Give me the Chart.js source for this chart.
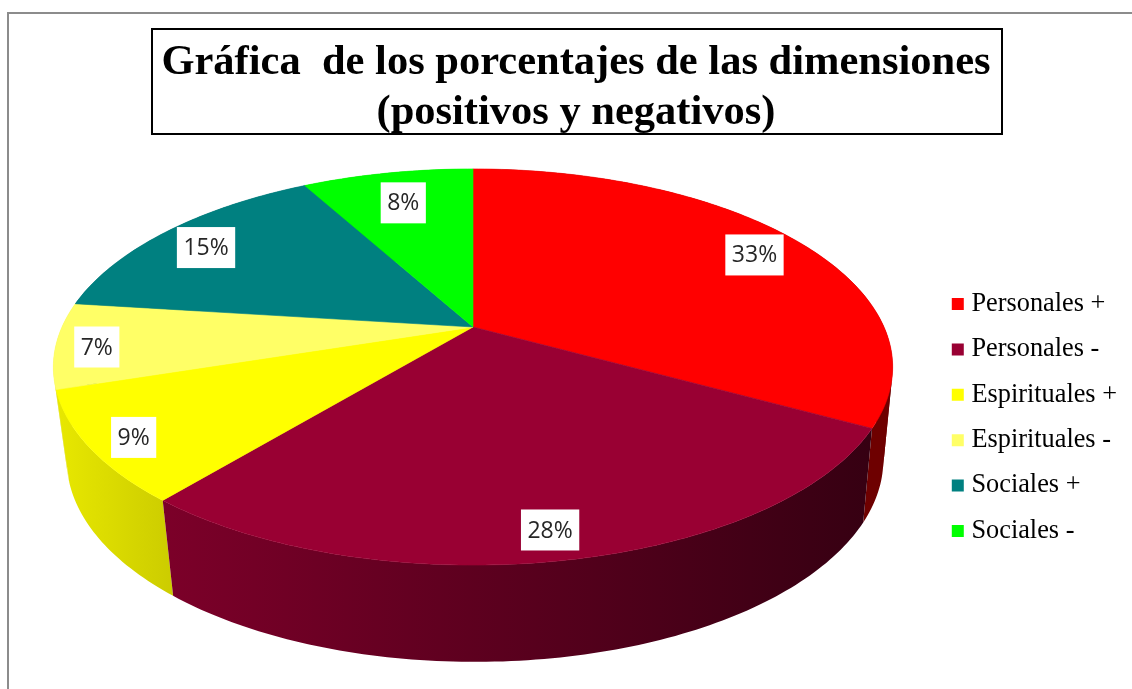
<!DOCTYPE html>
<html><head><meta charset="utf-8">
<style>html,body{margin:0;padding:0;background:#fff;overflow:hidden}#w{width:1132px;height:689px}canvas{display:block;filter:blur(0.35px)}</style>
<script src="https://cdn.jsdelivr.net/npm/chart.js@4"></script>
</head><body><div id="w"><canvas id="c" width="1132" height="689"></canvas></div>
<script>
const titleLines = ['Gráfica  de los porcentajes de las dimensiones', '(positivos y negativos)'];
const categories = ['Personales +', 'Personales -', 'Espirituales +', 'Espirituales -', 'Sociales +', 'Sociales -'];
const percentages = [33, 28, 9, 7, 15, 8];
const topColors = ['#ff0000', '#990033', '#ffff00', '#ffff66', '#008080', '#00ff00'];
const sideStart = ['#6e0000', '#7c0029', '#e8e800', '#e8e850', '#006060', '#00c000'];
const sideEnd   = ['#6e0000', '#360012', '#cccc00', '#e8e850', '#006060', '#00c000'];
const labelNudge = [[-4,6],[-5,4],[-7,6],[-10,4],[5,6],[7,14]];

// Projection of the tilted disc (layout only)
const P = {cx:473, cy:327, rx:411, ry:190, k:0.202};
function rimPoint(t, f=1){
  const w = 1 - P.k*f*Math.sin(t);
  return [P.rx*f*Math.cos(t)/w, P.ry*f*Math.sin(t)/w];
}
const toTop = ([x,y]) => [P.cx+x, P.cy+y];
const toBottom = ([x,y]) => [P.cx+0.973*x+2, P.cy+1.02*y+92];
function steps(a,b){const n=Math.max(4,Math.ceil((b-a)*60));return Array.from({length:n+1},(_,i)=>a+(b-a)*i/n);}

function drawTop(ctx){
  const a=this.startAngle,b=this.endAngle;
  ctx.save();
  ctx.beginPath();
  ctx.moveTo(P.cx,P.cy);
  steps(a,b).forEach(t=>{const p=toTop(rimPoint(t));ctx.lineTo(p[0],p[1]);});
  ctx.closePath();
  ctx.fillStyle=this.options.backgroundColor;
  ctx.strokeStyle=this.options.backgroundColor;
  ctx.lineWidth=0.6;
  ctx.fill();ctx.stroke();
  ctx.restore();
}

const pie3d = {
  id:'pie3d',
  afterUpdate(chart){ chart.getDatasetMeta(0).data.forEach(a=>{a.draw=drawTop;}); },
  beforeDraw(chart){
    const c=chart.ctx;
    c.save();
    c.fillStyle='#fff';c.fillRect(0,0,chart.width,chart.height);
    c.strokeStyle='#8c8c8c';c.lineWidth=2;
    c.beginPath();c.moveTo(8,chart.height+2);c.lineTo(8,13);c.lineTo(chart.width+2,13);c.stroke();
    c.fillStyle='#fff';c.strokeStyle='#000';c.lineWidth=2;
    c.fillRect(152,29,850,105);c.strokeRect(152,29,850,105);
    c.restore();
  },
  beforeDatasetsDraw(chart){
    const c=chart.ctx, arcs=chart.getDatasetMeta(0).data;
    const order=arcs.map((a,i)=>i).sort((i,j)=>Math.sin((arcs[i].startAngle+arcs[i].endAngle)/2)-Math.sin((arcs[j].startAngle+arcs[j].endAngle)/2));
    c.save();
    order.forEach(i=>{
      const a=arcs[i], ts=steps(a.startAngle,a.endAngle);
      const up=ts.map(t=>toTop(rimPoint(t))), dn=ts.map(t=>toBottom(rimPoint(t)));
      const xs=up.concat(dn).map(p=>p[0]);
      const g=c.createLinearGradient(Math.min(...xs),0,Math.max(...xs),0);
      g.addColorStop(0,sideStart[i]);g.addColorStop(1,sideEnd[i]);
      c.fillStyle=g;
      // quads of one winding go in one path, so no seams show between them
      [1,-1].forEach(sign=>{
        c.beginPath();
        for(let n=0;n<ts.length-1;n++){
          const q=[up[n],up[n+1],dn[n+1],dn[n]];
          let area=0;
          q.forEach((p,m)=>{const r=q[(m+1)%4];area+=p[0]*r[1]-r[0]*p[1];});
          if(Math.sign(area)!==sign) continue;
          c.moveTo(q[0][0],q[0][1]);
          c.lineTo(q[1][0],q[1][1]);c.lineTo(q[2][0],q[2][1]);c.lineTo(q[3][0],q[3][1]);
          c.closePath();
        }
        c.fill();
      });
    });
    c.restore();
  },
  afterDatasetsDraw(chart){
    const c=chart.ctx, arcs=chart.getDatasetMeta(0).data;
    c.save();
    c.font='23px "Open Sans"';
    c.textAlign='center';c.textBaseline='middle';
    arcs.forEach((a,i)=>{
      const p=toTop(rimPoint((a.startAngle+a.endAngle)/2,0.88));
      const x=p[0]+labelNudge[i][0], y=p[1]+labelNudge[i][1];
      const t=percentages[i]+'%', w=c.measureText(t).width+13;
      c.fillStyle='#fff';c.fillRect(x-w/2,y-20.5,w,41);
      c.fillStyle='#262626';c.fillText(t,x,y+1);
    });
    c.restore();
  }
};

Chart.defaults.animation=false;
new Chart(document.getElementById('c'),{
  type:'pie',
  data:{labels:categories,datasets:[{data:percentages,backgroundColor:topColors,borderWidth:0}]},
  plugins:[pie3d],
  options:{
    responsive:false,
    layout:{padding:{left:25,right:5,top:0,bottom:0}},
    plugins:{
      tooltip:{enabled:false},
      title:{display:true,text:titleLines,color:'#000',
        font:{family:'"Liberation Serif"',size:42.5,weight:'bold',lineHeight:1.176},
        padding:{top:38,bottom:8}},
      legend:{position:'right',align:'center',fullSize:false,
        labels:{usePointStyle:true,pointStyle:'rect',boxWidth:1,boxHeight:12,padding:19.1,color:'#000',
          font:{family:'"Liberation Serif"',size:26.3}}}
    }
  }
});
</script></body></html>
